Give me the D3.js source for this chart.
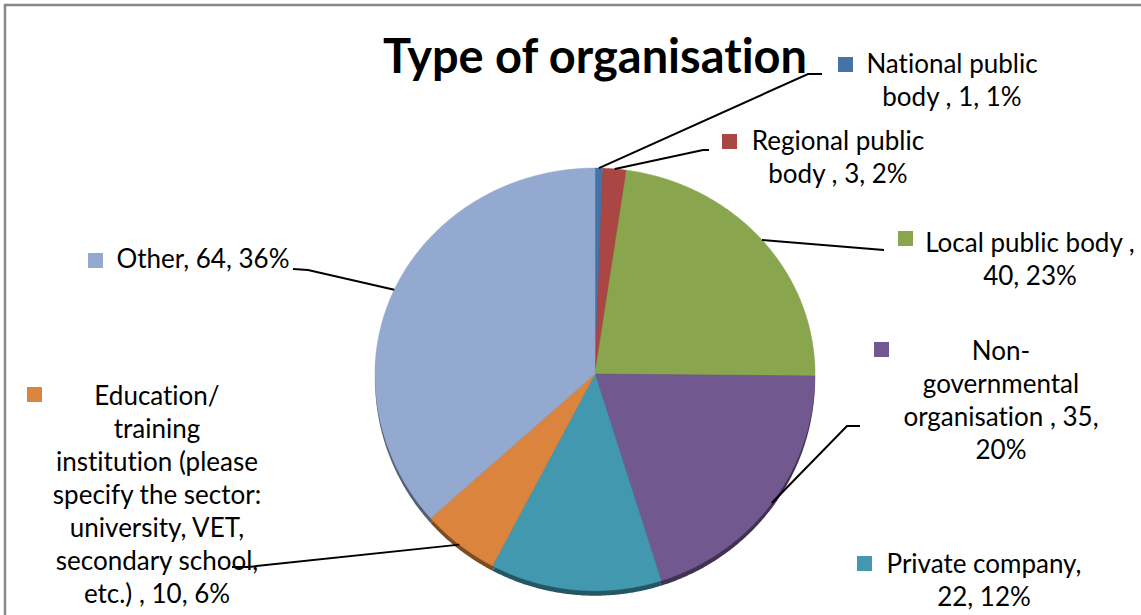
<!DOCTYPE html>
<html>
<head>
<meta charset="utf-8">
<script src="https://cdn.jsdelivr.net/npm/d3@7"></script>
<style>
  body { margin: 0; background: #fff; }
  svg { display: block; }
  text { font-family: Lato, "Open Sans", sans-serif; fill: #000; font-variant-ligatures: none; }
</style>
</head>
<body>
<svg width="1141" height="615"></svg>
<script>
// chart data
var categories = ["National public body", "Regional public body", "Local public body",
  "Non-governmental organisation", "Private company",
  "Education/ training institution (please specify the sector: university, VET, secondary school, etc.)",
  "Other"];
var counts = [1, 3, 40, 35, 22, 10, 64];
var percents = ["1%", "2%", "23%", "20%", "12%", "6%", "36%"];
var colors = ["#4572a7", "#aa4643", "#89a54e", "#71588f", "#4198af", "#db843d", "#93a9cf"];

// label text as wrapped in the picture
var labelLines = [
  ["National public", "body , 1, 1%"],
  ["Regional public", "body , 3, 2%"],
  ["Local public body ,", "40, 23%"],
  ["Non-", "governmental", "organisation , 35,", "20%"],
  ["Private company,", "22, 12%"],
  ["Education/", "training", "institution (please", "specify the sector:", "university, VET,", "secondary school,", "etc.) , 10, 6%"],
  ["Other, 64, 36%"]
];

// where each label sits (square, text centre, first baseline, leader end)
var labelPos = [
  {sx: 838, sy: 57,  cx: 952,  y: 73,  lead: [[808, 74], [822, 74]]},
  {sx: 722, sy: 134, cx: 838,  y: 150, lead: [[703, 150], [709, 150]]},
  {sx: 898, sy: 231, cx: 1030, y: 252, lead: [[884, 250]]},
  {sx: 874, sy: 342, cx: 1001, y: 360, lead: [[847, 426], [860, 426]]},
  {sx: 857, sy: 556, cx: 984,  y: 573, lead: null},
  {sx: 27,  sy: 387, cx: 157,  y: 405, lead: [[248, 567], [232, 567]]},
  {sx: 88,  sy: 253, cx: 203,  y: 268, lead: [[308, 270], [293, 269]]}
];

var svg = d3.select("svg");
var cx = 595, cy = 374, r = 220;
var kTop = 0.936, kBot = 0.985;  // slight perspective tilt
var depth = 5;

// frame
svg.append("rect")
    .attr("x", 5).attr("y", 5)
    .attr("width", 1160).attr("height", 640)
    .attr("fill", "none")
    .attr("stroke", "#878787")
    .attr("stroke-width", 2.5);

function project(a, rad) {
  var c = Math.cos(a);
  return [cx + rad * Math.sin(a), cy - rad * c * (c > 0 ? kTop : kBot)];
}

var pie = d3.pie().sort(null).value(function(d) { return d; });
var arcs = pie(counts);

var line = d3.line();
function slicePath(d) {
  var pts = [[cx, cy]];
  var n = Math.max(2, Math.ceil((d.endAngle - d.startAngle) / 0.01));
  for (var i = 0; i <= n; i++) {
    pts.push(project(d.startAngle + (d.endAngle - d.startAngle) * i / n, r));
  }
  return line(pts) + "Z";
}

// dark side of the 3d pie
svg.append("g")
    .attr("transform", "translate(0," + depth + ")")
  .selectAll("path")
  .data(arcs)
  .enter().append("path")
    .attr("d", slicePath)
    .attr("fill", function(d, i) { return d3.color(colors[i]).darker(1.6); });

svg.append("g")
  .selectAll("path")
  .data(arcs)
  .enter().append("path")
    .attr("d", slicePath)
    .attr("fill", function(d, i) { return colors[i]; })
    .attr("stroke", function(d, i) { return colors[i]; })
    .attr("stroke-width", 0.5);

// title
svg.append("text")
    .attr("x", 595).attr("y", 73)
    .attr("text-anchor", "middle")
    .attr("font-size", 47)
    .attr("font-weight", 700)
    .attr("textLength", 424)
    .attr("lengthAdjust", "spacingAndGlyphs")
    .text("Type of organisation");

// leader lines
arcs.forEach(function(d, i) {
  var p = labelPos[i];
  if (!p.lead) return;
  var start = project((d.startAngle + d.endAngle) / 2, r);
  svg.append("path")
      .attr("d", line([start].concat(p.lead)))
      .attr("fill", "none")
      .attr("stroke", "#000")
      .attr("stroke-width", 2);
});

// labels
var labels = svg.append("g")
  .selectAll("g")
  .data(categories)
  .enter().append("g");

labels.append("rect")
    .attr("x", function(d, i) { return labelPos[i].sx; })
    .attr("y", function(d, i) { return labelPos[i].sy; })
    .attr("width", 15).attr("height", 15)
    .attr("fill", function(d, i) { return colors[i]; });

labels.each(function(d, i) {
  var p = labelPos[i];
  var t = d3.select(this).append("text")
      .attr("text-anchor", "middle")
      .attr("font-size", 26);
  labelLines[i].forEach(function(s, j) {
    t.append("tspan")
        .attr("x", p.cx)
        .attr("y", p.y + j * 33)
        .text(s);
  });
});
</script>
</body>
</html>
